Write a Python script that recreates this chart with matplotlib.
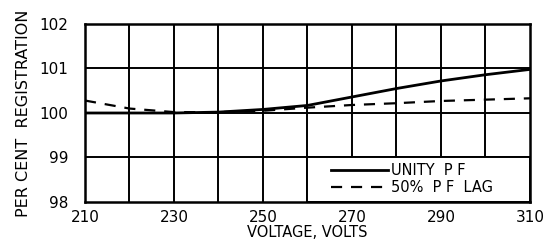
import matplotlib.pyplot as plt
from matplotlib.patches import Rectangle

# data
voltage = [210, 220, 230, 240, 250, 260, 270, 280, 290, 300, 310]
unity_pf = [100.0, 100.0, 100.0, 100.02, 100.08, 100.17, 100.36, 100.55, 100.72, 100.86, 100.98]
pf50_lag = [100.28, 100.10, 100.02, 100.02, 100.05, 100.12, 100.18, 100.22, 100.27, 100.30, 100.33]

x_ticks = [210, 230, 250, 270, 290, 310]
y_ticks = [98, 99, 100, 101, 102]

plt.rcParams["font.family"] = ["DejaVu Sans"]

fig = plt.figure(figsize=(5.53, 2.49), dpi=100)
ax = fig.add_axes([0.1537, 0.1888, 0.8047, 0.7148])

ax.set_xlim(210, 310)
ax.set_ylim(98, 102)

# grid every 10 V and 1 %
for v in range(220, 310, 10):
    ax.axvline(v, color="black", lw=1.4, zorder=1)
for p in [99, 100, 101]:
    ax.axhline(p, color="black", lw=1.4, zorder=1)

# blank cell for the key
ax.add_patch(Rectangle((260, 98), 50, 1, facecolor="white",
                       edgecolor="black", lw=1.4, zorder=2))

ax.plot(voltage, unity_pf, color="black", lw=2.0, zorder=3, label="UNITY  P F")
ax.plot(voltage, pf50_lag, color="black", lw=1.6, ls=(0, (5, 4)), zorder=3,
        label="50%  P F  LAG")

ax.legend(loc="center", bbox_to_anchor=(0.735, 0.13), frameon=False,
          fontsize=10.5, handlelength=3.9, handletextpad=0.2,
          labelspacing=0.15, borderpad=0)

for s in ax.spines.values():
    s.set_linewidth(1.8)

ax.set_xticks(x_ticks)
ax.set_yticks(y_ticks)
ax.tick_params(length=0, labelsize=11, pad=6)
ax.tick_params(axis="y", pad=12)

ax.set_xlabel("VOLTAGE, VOLTS", fontsize=10.5, labelpad=0)
ax.set_ylabel("PER CENT  REGISTRATION", fontsize=11.5, labelpad=6)

fig.savefig("out.png", dpi=100)
